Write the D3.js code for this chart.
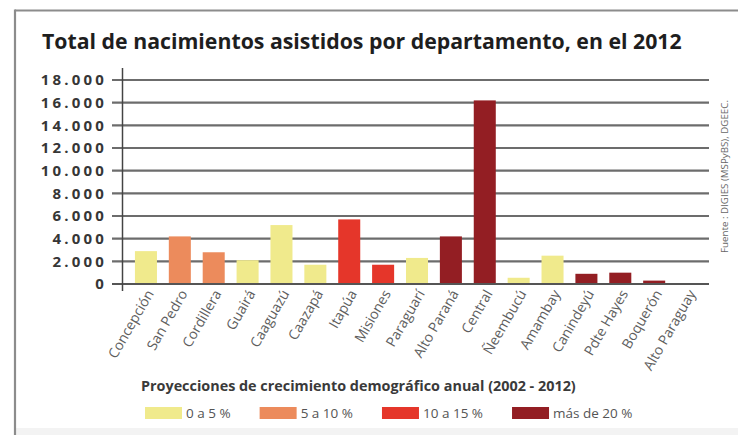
<!DOCTYPE html>
<html>
<head>
<meta charset="utf-8">
<script src="https://cdn.jsdelivr.net/npm/d3@7"></script>
<style>
  html, body { margin: 0; padding: 0; background: #ffffff; }
  svg { display: block; }
</style>
</head>
<body>
<svg id="chart" width="738" height="435"></svg>
<script>
// ---- data ----
const departments = ["Concepción","San Pedro","Cordillera","Guairá","Caaguazú","Caazapá","Itapúa","Misiones","Paraguarí","Alto Paraná","Central","Ñeembucú","Amambay","Canindeyú","Pdte Hayes","Boquerón","Alto Paraguay"];
const births = [2900, 4200, 2800, 2100, 5200, 1700, 5700, 1700, 2300, 4200, 16200, 550, 2500, 900, 1000, 300, 60];
const growthGroup = [0, 1, 1, 0, 0, 0, 2, 2, 0, 3, 3, 0, 0, 3, 3, 3, 3];
const groupLabels = ["0 a 5 %", "5 a 10 %", "10 a 15 %", "más de 20 %"];
const groupColors = ["#f0ea8c", "#ec8b5c", "#e5362a", "#931e23"];
const yTicks = [0, 2000, 4000, 6000, 8000, 10000, 12000, 14000, 16000, 18000];
const title = "Total de nacimientos asistidos por departamento, en el 2012";
const legendTitle = "Proyecciones de crecimiento demográfico anual (2002 - 2012)";
const source = "Fuente : DIGIES (MSPyBS), DGEEC.";

const svg = d3.select("#chart");

// frame
svg.append("rect").attr("x", 16).attr("y", 428).attr("width", 722).attr("height", 7).attr("fill", "#f3f3f3");
svg.append("line").attr("x1", 15).attr("x2", 738).attr("y1", 10.5).attr("y2", 10.5)
  .attr("stroke", "#8c8c8c").attr("stroke-width", 2.2);
svg.append("line").attr("x1", 15).attr("x2", 15).attr("y1", 9.5).attr("y2", 435)
  .attr("stroke", "#8c8c8c").attr("stroke-width", 2.2);

function fitWidth(sel, target) {
  const w = sel.node().getComputedTextLength();
  const fs = parseFloat(sel.attr("font-size"));
  sel.attr("font-size", (fs * target / w).toFixed(2));
}

// title
const t = svg.append("text").attr("x", 42).attr("y", 49)
  .attr("font-family", "'Open Sans', sans-serif").attr("font-weight", 700)
  .attr("font-size", 19).attr("fill", "#1e1e1e").text(title);
fitWidth(t, 640);

// scales
const x = d3.scaleBand().domain(departments).range([129, 705]).paddingInner(0.35).paddingOuter(0.175);
const y = d3.scaleLinear().domain([0, 18000]).range([284, 80]);

// gridlines
const fmt = d => d === 0 ? "0" : d3.format(",")(d).replace(/,/g, ".");
const grid = svg.append("g");
grid.selectAll("line").data(yTicks).join("line")
  .attr("x1", 112).attr("x2", 709)
  .attr("y1", d => y(d)).attr("y2", d => y(d))
  .attr("stroke", d => d === 0 ? "#555" : "#6c6c6c").attr("stroke-width", 2.2);

// y axis line
svg.append("line").attr("x1", 122.5).attr("x2", 122.5).attr("y1", 68).attr("y2", 291)
  .attr("stroke", "#444").attr("stroke-width", 1.5);

// y tick labels
svg.append("g").selectAll("text").data(yTicks).join("text")
  .attr("x", 107).attr("y", d => y(d)).attr("dy", "0.36em")
  .attr("text-anchor", "end")
  .attr("font-family", "'Open Sans', sans-serif").attr("font-weight", 700)
  .attr("font-size", 15).attr("letter-spacing", 3.2)
  .attr("fill", "#363636")
  .text(fmt);

// bars
svg.append("g").selectAll("rect").data(departments).join("rect")
  .attr("x", d => x(d))
  .attr("width", x.bandwidth())
  .attr("y", (d, i) => y(births[i]))
  .attr("height", (d, i) => y(0) - y(births[i]) - 1)
  .attr("fill", (d, i) => groupColors[growthGroup[i]]);

// x labels
svg.append("g").selectAll("text").data(departments).join("text")
  .attr("transform", d => `translate(${x(d) + x.bandwidth() / 2 + 4},${291}) rotate(-60)`)
  .attr("text-anchor", "end").attr("dy", "0.35em")
  .attr("font-family", "'Open Sans', sans-serif").attr("font-size", 14)
  .attr("fill", "#5e5e5e")
  .text(d => d);

// source
svg.append("text")
  .attr("transform", "translate(728,253) rotate(-90)")
  .attr("font-family", "'Open Sans', sans-serif").attr("font-size", 8.5)
  .attr("fill", "#666").text(source)
  .call(s => fitWidth(s, 153));

// legend
const lt = svg.append("text").attr("x", 141).attr("y", 391)
  .attr("font-family", "'Open Sans', sans-serif").attr("font-weight", 700)
  .attr("font-size", 12).attr("fill", "#3a3a3a").text(legendTitle);
fitWidth(lt, 435);

let lx = 145;
groupLabels.forEach((lab, i) => {
  svg.append("rect").attr("x", lx).attr("y", 407).attr("width", 37).attr("height", 12)
    .attr("fill", groupColors[i]);
  const tx = svg.append("text").attr("x", lx + 41).attr("y", 413).attr("dy", "0.36em")
    .attr("font-family", "'Open Sans', sans-serif").attr("font-size", 13.5)
    .attr("fill", "#555").text(lab);
  lx = lx + 41 + tx.node().getComputedTextLength() + 29;
});
</script>
</body>
</html>
